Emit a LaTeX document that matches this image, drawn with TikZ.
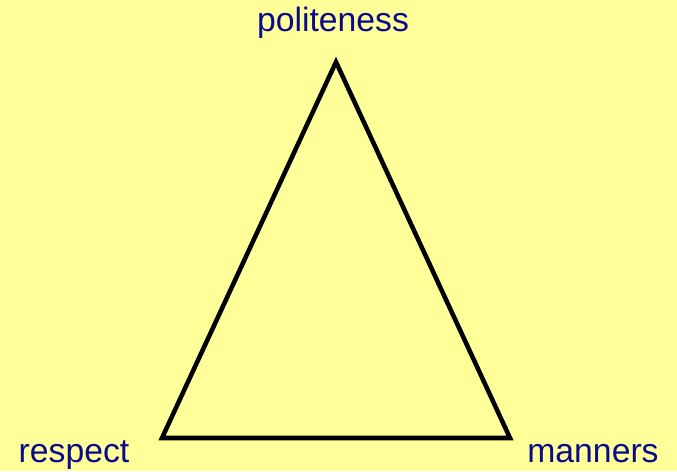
\documentclass[tikz,border=0pt]{standalone}
\usepackage{fontspec}
\setmainfont{Liberation Sans}
\definecolor{bgyellow}{RGB}{255,255,153}
\definecolor{labelblue}{RGB}{10,10,140}
\begin{document}
\begin{tikzpicture}[x=0.75pt,y=-0.75pt,
  lbl/.style={font=\fontsize{25.3}{29}\selectfont, text=labelblue, inner sep=0pt, anchor=base}]
\fill[bgyellow] (0,0) rectangle (677,471);
\useasboundingbox (0,0) rectangle (677,471);
\coordinate (top) at (336,62);
\coordinate (bl) at (162,438);
\coordinate (br) at (510,438);
\draw[line width=3.4pt, line join=miter] (top) -- (bl) -- (br) -- cycle;
\node[lbl] (politeness) at (333,31) {politeness};
\node[lbl] (respect) at (74,462) {respect};
\node[lbl] (manners) at (593,462) {manners};
\end{tikzpicture}
\end{document}
